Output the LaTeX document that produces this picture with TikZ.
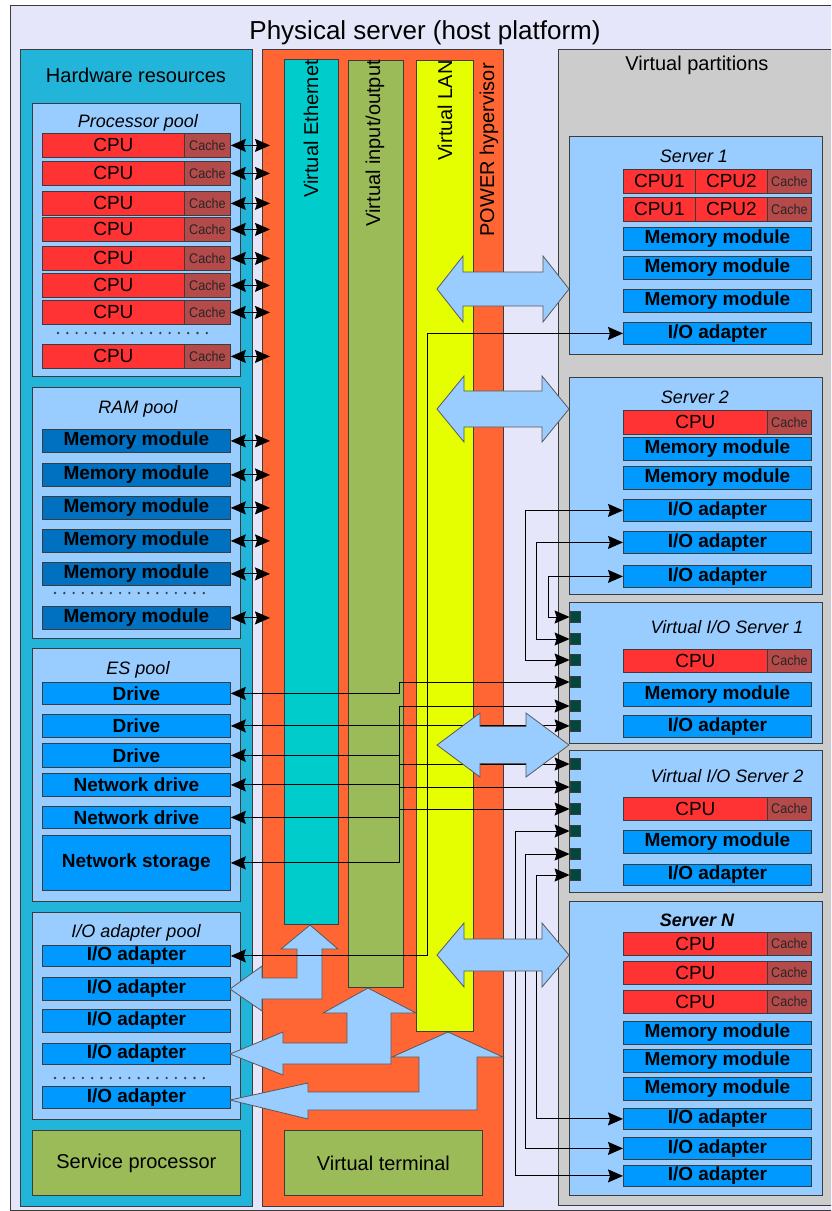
\documentclass[tikz,border=0pt]{standalone}
\usepackage{fontspec}
\setmainfont{Liberation Sans}
\usetikzlibrary{arrows.meta}
\definecolor{lav}{HTML}{E6E6FA}
\definecolor{hwteal}{HTML}{22B5D9}
\definecolor{pool}{HTML}{99CCFF}
\definecolor{cpured}{HTML}{FF3333}
\definecolor{cachec}{HTML}{B44A4A}
\definecolor{ramblue}{HTML}{0070C0}
\definecolor{itemblue}{HTML}{0099FF}
\definecolor{hvorange}{HTML}{FF6633}
\definecolor{ethcyan}{HTML}{00CCCC}
\definecolor{iogreen}{HTML}{9BBB59}
\definecolor{lanyellow}{HTML}{E6FF00}
\definecolor{partgray}{HTML}{CCCCCC}
\definecolor{portc}{HTML}{00473E}
\definecolor{bord}{HTML}{3C3C3C}
\newcommand\fs[1]{\fontsize{#1}{#1}\selectfont}
\newcommand\cachetxt{\scalebox{0.9}[1]{Cache}}
\begin{document}
\begin{tikzpicture}[x=1pt,y=-1pt,
  >={Stealth[length=15pt,width=13pt,inset=2pt]},
  box/.style={draw=bord, line width=0.8pt},
  cell/.style={box, inner sep=0pt, anchor=north west},
  cpu/.style={cell, fill=cpured, font=\fs{19}},
  cache/.style={cell, fill=cachec, font=\fs{14}, text=black!85},
  ram/.style={cell, fill=ramblue, font=\fs{19}\bfseries, minimum width=188},
  item/.style={cell, fill=itemblue, font=\fs{19}\bfseries, minimum width=188},
  port/.style={box, fill=portc, minimum width=10, minimum height=11, inner sep=0pt},
  conn/.style={line width=1pt, black},
  pooltitle/.style={font=\fs{18}\itshape, anchor=base},
  vlabel/.style={font=\fs{20}, rotate=90, anchor=base east, inner sep=0pt},
  bigarrow/.style={fill=pool, draw=bord!85, line width=0.8pt, line join=miter},
  dots/.style={line width=2.6pt, line cap=round, dash pattern=on 0pt off 9.3pt, bord}]
\useasboundingbox (0,0) rectangle (831,1211);
\clip (0,0) rectangle (831,1211);
\fill[white] (0,0) rectangle (831,1211);
\draw[box, fill=lav] (10,5) rectangle (840,1210);
\node[font=\fs{26}, anchor=base] (title) at (425,39) {Physical server (host platform)};

% ---------- hardware resources ----------
\draw[box, fill=hwteal] (20,49) rectangle (252,1206);
\node[font=\fs{20}, anchor=base] (hwt) at (136,82) {Hardware resources};

% ---------- hypervisor ----------
\draw[box, fill=hvorange] (262,49) rectangle (503,1206);
\draw[box, fill=ethcyan] (284,59) rectangle (338,924);
\draw[box, fill=iogreen] (348,60) rectangle (403,987);
\draw[box, fill=lanyellow] (416,60) rectangle (473,1031);
\node[vlabel] (veth) at (318,60) {Virtual Ethernet};
\node[vlabel] (vio) at (380,60) {Virtual input/output};
\node[vlabel] (vlan) at (452,60) {Virtual LAN};
\node[vlabel] (phyp) at (494,63) {POWER hypervisor};
\node[cell, fill=iogreen, minimum width=198, minimum height=65, font=\fs{20}] (vt) at (284,1130) {Virtual terminal};

% ---------- partitions ----------
\draw[box, fill=partgray] (558,49) rectangle (840,1205);
\node[font=\fs{20}, anchor=base] (vpt) at (697,70) {Virtual partitions};

% ---------- processor pool ----------
\draw[box, fill=pool] (32,103) rectangle (240,376);
\node[pooltitle] (ppt) at (138,127) {Processor pool};
\coordinate (hvL) at (270,0);
\foreach \t [count=\i] in {133,161,191,217,246,273,300,344} {
  \node[cpu, minimum width=142, minimum height=24] (c\i) at (42,\t) {CPU};
  \node[cache, minimum width=46, minimum height=24] (k\i) at (184,\t) {\cachetxt};
}
\draw[dots] (58,333) -- (216,333);

% ---------- RAM pool ----------
\draw[box, fill=pool] (32,387) rectangle (240,638);
\node[pooltitle] (rpt) at (138,413) {RAM pool};
\foreach \t [count=\i] in {429,463,496,529,562,606} {
  \node[ram, minimum height=23] (m\i) at (42,\t) {Memory module};
}
\draw[dots] (55,593) -- (213,593);

% ---------- ES pool ----------
\draw[box, fill=pool] (32,648) rectangle (240,901);
\node[pooltitle] (ept) at (138,674) {ES pool};
\node[item, minimum height=22] (d1) at (42,682) {Drive};
\node[item, minimum height=23] (d2) at (42,714) {Drive};
\node[item, minimum height=24] (d3) at (42,743) {Drive};
\node[item, minimum height=23] (nd1) at (42,773) {Network drive};
\node[item, minimum height=22] (nd2) at (42,806) {Network drive};
\node[item, minimum height=55] (ns) at (42,835) {Network storage};

% ---------- I/O adapter pool ----------
\draw[box, fill=pool] (32,912) rectangle (240,1119);
\node[pooltitle] (ipt) at (136,937) {I/O adapter pool};
\node[item, minimum height=21] (io1) at (42,945) {I/O adapter};
\node[item, minimum height=23] (io2) at (42,977) {I/O adapter};
\node[item, minimum height=23] (io3) at (42,1009) {I/O adapter};
\node[item, minimum height=21] (io4) at (42,1043) {I/O adapter};
\node[item, minimum height=22] (io5) at (42,1086) {I/O adapter};
\draw[dots] (55,1078) -- (213,1078);

\node[cell, fill=iogreen, minimum width=208, minimum height=65, font=\fs{20}] (sp) at (32,1130) {Service processor};

% ---------- Server 1 ----------
\draw[box, fill=pool] (569,136) rectangle (822,354);
\node[pooltitle] (s1t) at (694,162) {Server 1};
\foreach \t [count=\i] in {169,197} {
  \node[cpu, minimum width=72, minimum height=24] (s1a\i) at (623,\t) {CPU1};
  \node[cpu, minimum width=72, minimum height=24] (s1b\i) at (695,\t) {CPU2};
  \node[cache, minimum width=44, minimum height=24] (s1k\i) at (767,\t) {\cachetxt};
}
\node[item, minimum height=23] (s1m1) at (623,227) {Memory module};
\node[item, minimum height=23] (s1m2) at (623,256) {Memory module};
\node[item, minimum height=23] (s1m3) at (623,289) {Memory module};
\node[item, minimum height=22] (s1io) at (623,322) {I/O adapter};

% ---------- Server 2 ----------
\draw[box, fill=pool] (569,377) rectangle (822,594);
\node[pooltitle] (s2t) at (695,403) {Server 2};
\node[cpu, minimum width=144, minimum height=24] (s2c) at (623,410) {CPU};
\node[cache, minimum width=44, minimum height=24] (s2k) at (767,410) {\cachetxt};
\node[item, minimum height=23] (s2m1) at (623,437) {Memory module};
\node[item, minimum height=23] (s2m2) at (623,466) {Memory module};
\node[item, minimum height=22] (s2io1) at (623,499) {I/O adapter};
\node[item, minimum height=22] (s2io2) at (623,531) {I/O adapter};
\node[item, minimum height=22] (s2io3) at (623,565) {I/O adapter};

% ---------- VIOS 1 ----------
\draw[box, fill=pool] (569,602) rectangle (822,743);
\node[pooltitle, anchor=base east] (v1t) at (807,633) {Virtual I/O Server 1};
\node[cpu, minimum width=144, minimum height=23] (v1c) at (623,649) {CPU};
\node[cache, minimum width=44, minimum height=23] (v1k) at (767,649) {\cachetxt};
\node[item, minimum height=24] (v1m) at (623,682) {Memory module};
\node[item, minimum height=22] (v1io) at (623,715) {I/O adapter};
\foreach \y [count=\i] in {617,639,660,682,706,725.5} {
  \node[port] (p1\i) at (575,\y) {};
}

% ---------- VIOS 2 ----------
\draw[box, fill=pool] (569,750) rectangle (822,892);
\node[pooltitle, anchor=base east] (v2t) at (807,782) {Virtual I/O Server 2};
\node[cpu, minimum width=144, minimum height=23] (v2c) at (623,797) {CPU};
\node[cache, minimum width=44, minimum height=23] (v2k) at (767,797) {\cachetxt};
\node[item, minimum height=23] (v2m) at (623,830) {Memory module};
\node[item, minimum height=21] (v2io) at (623,864) {I/O adapter};
\foreach \y [count=\i] in {764,787,809,831,854,875} {
  \node[port] (p2\i) at (575,\y) {};
}

% ---------- Server N ----------
\draw[box, fill=pool] (569,901) rectangle (822,1195);
\node[pooltitle, font=\fs{18}\bfseries\itshape] (snt) at (697,926) {Server N};
\foreach \t [count=\i] in {932,961,990} {
  \node[cpu, minimum width=144, minimum height=23] (snc\i) at (623,\t) {CPU};
  \node[cache, minimum width=44, minimum height=23] (snk\i) at (767,\t) {\cachetxt};
}
\node[item, minimum height=23] (snm1) at (623,1021) {Memory module};
\node[item, minimum height=23] (snm2) at (623,1049) {Memory module};
\node[item, minimum height=23] (snm3) at (623,1077) {Memory module};
\node[item, minimum height=21] (snio1) at (623,1108) {I/O adapter};
\node[item, minimum height=22] (snio2) at (623,1137) {I/O adapter};
\node[item, minimum height=21] (snio3) at (623,1165) {I/O adapter};

% ---------- connectors ----------
\coordinate (bus) at (399,0);
\coordinate (vA) at (427,0);
\coordinate (x515) at (515,0);
\coordinate (x525) at (525,0);
\coordinate (x536) at (536,0);
\coordinate (x548) at (548,0);

\foreach \i in {1,...,8} \draw[conn,<->] (k\i.east) -- (k\i.east -| hvL);
\foreach \i in {1,...,6} \draw[conn,<->] (m\i.east) -- (m\i.east -| hvL);

\draw[conn,<->] (d1.east) -| (bus |- p14.west) -- (p14.west);
\draw[conn,<->] (d2.east) -- (d2.east -| p16.west);
\draw[conn] (bus |- p15.west) -- (bus |- ns.east);
\foreach \n in {d3,nd1,nd2,ns} \draw[conn,<-] (\n.east) -- (\n.east -| bus);
\foreach \p in {p15,p21,p22,p23} \draw[conn,->] (bus |- \p.west) -- (\p.west);

\draw[conn,<->] (s2io1.west) -| (x525 |- p13.west) -- (p13.west);
\draw[conn,<->] (s2io2.west) -| (x536 |- p12.west) -- (p12.west);
\draw[conn,<->] (s2io3.west) -| (x548 |- p11.west) -- (p11.west);

\draw[conn,<->] (snio1.west) -| (x536 |- p26.west) -- (p26.west);
\draw[conn,<->] (snio2.west) -| (x525 |- p25.west) -- (p25.west);
\draw[conn,<->] (snio3.west) -| (x515 |- p24.west) -- (p24.west);

% ---------- big double arrows ----------
\foreach \cy/\hh/\sh/\hl in {289/33/17/26, 409/33/18/27, 745/32/18.5/43, 955/32/16/27} {
  \draw[bigarrow] (437,\cy) -- (437+\hl,\cy-\hh) -- (437+\hl,\cy-\sh) -- (569-\hl,\cy-\sh)
    -- (569-\hl,\cy-\hh) -- (569,\cy) -- (569-\hl,\cy+\hh) -- (569-\hl,\cy+\sh)
    -- (437+\hl,\cy+\sh) -- (437+\hl,\cy+\hh) -- cycle;
}

% ---------- bent arrows ----------
\draw[bigarrow] (230,989) -- (262,966) -- (262,978) -- (297,978) -- (297,949) -- (281,949)
  -- (310,925) -- (338,949) -- (322,949) -- (322,999) -- (262,999) -- (262,1011) -- cycle;
\draw[bigarrow] (230,1054) -- (283,1032) -- (283,1043) -- (347,1043) -- (347,1013) -- (323,1013)
  -- (368,988) -- (416,1013) -- (391,1013) -- (391,1064) -- (283,1064) -- (283,1075) -- cycle;
\draw[bigarrow] (230,1100) -- (308,1083) -- (308,1092) -- (419,1092) -- (419,1057) -- (392,1057)
  -- (448,1032) -- (503,1057) -- (477,1057) -- (477,1110) -- (308,1110) -- (308,1119) -- cycle;

% ---------- Server 1 I/O link ----------
\draw[conn,<->] (s1io.west) -| (vA |- io1.east) -- (io1.east);
\end{tikzpicture}
\end{document}
